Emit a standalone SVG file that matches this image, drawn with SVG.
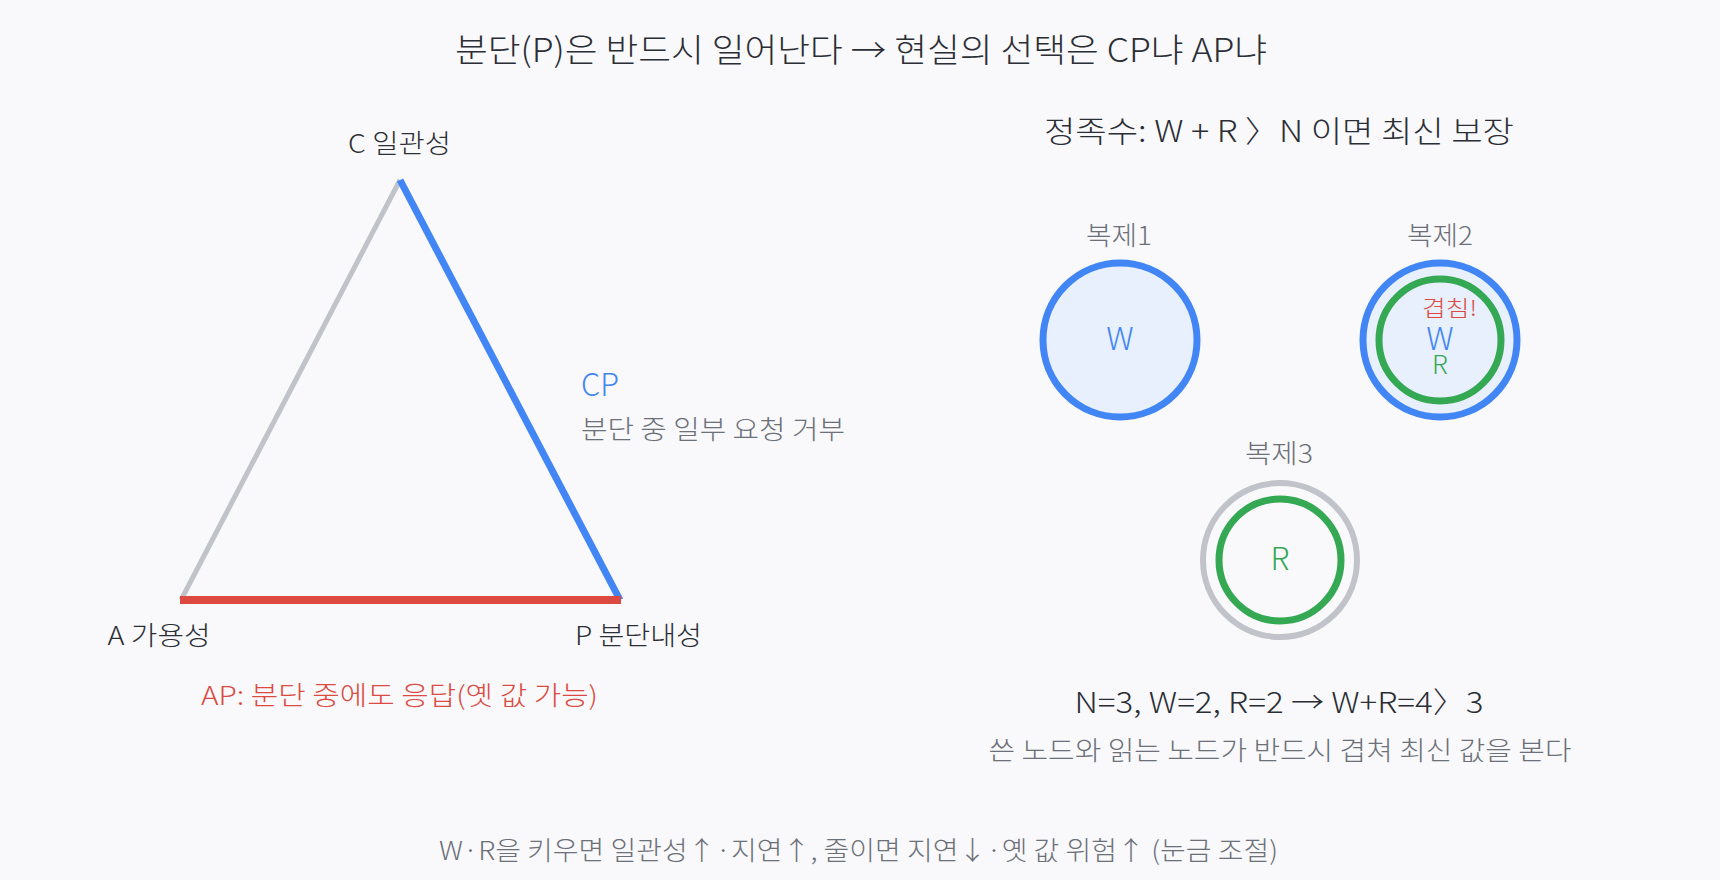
<svg xmlns="http://www.w3.org/2000/svg" width="1720" height="880" viewBox="0 0 1720 880">
<style>
text{font-family:"Noto Sans CJK KR","Noto Sans",sans-serif;font-weight:300}
.dk{fill:#2b2e35}
.gy{fill:#6c7079}
.bl{fill:#4285f4}
.rd{fill:#db4b42}
.gn{fill:#34a853}
.mid{text-anchor:middle}
</style>
<rect width="1720" height="880" fill="#f9f9fb"/>
<text class="dk mid" x="861" y="62" font-size="33" textLength="812" lengthAdjust="spacingAndGlyphs">분단(P)은 반드시 일어난다 → 현실의 선택은 CP냐 AP냐</text>
<g id="connectors" fill="none" stroke-linecap="butt">
<line x1="400" y1="180" x2="181" y2="600" stroke="#c0c3ca" stroke-width="5"/>
<line x1="400" y1="180" x2="620" y2="600" stroke="#4285f4" stroke-width="7"/>
<line x1="180" y1="600" x2="621" y2="600" stroke="#db4b42" stroke-width="8"/>
</g>
<g id="node-c"><text class="dk mid" x="399.5" y="153" font-size="26" textLength="103" lengthAdjust="spacingAndGlyphs">C 일관성</text></g>
<g id="node-a"><text class="dk mid" x="159" y="645" font-size="26" textLength="103" lengthAdjust="spacingAndGlyphs">A 가용성</text></g>
<g id="node-p"><text class="dk mid" x="638.5" y="645" font-size="26" textLength="127" lengthAdjust="spacingAndGlyphs">P 분단내성</text></g>
<g id="label-cp">
<text class="bl" x="581" y="396" font-size="32" textLength="38" lengthAdjust="spacingAndGlyphs">CP</text>
<text class="gy" x="581" y="439" font-size="26" textLength="264" lengthAdjust="spacingAndGlyphs">분단 중 일부 요청 거부</text>
</g>
<g id="label-ap"><text class="rd mid" x="399.5" y="705" font-size="26" textLength="397" lengthAdjust="spacingAndGlyphs">AP: 분단 중에도 응답(옛 값 가능)</text></g>
<text class="dk mid" x="1279" y="142" font-size="30" textLength="470" lengthAdjust="spacingAndGlyphs">정족수: W + R 〉N 이면 최신 보장</text>
<g id="replica1">
<text class="gy mid" x="1119" y="245" font-size="26" textLength="66" lengthAdjust="spacingAndGlyphs">복제1</text>
<circle cx="1120" cy="340" r="77" fill="#e8f0fe" stroke="#4285f4" stroke-width="7"/>
<text class="bl mid" x="1120" y="350" font-size="32">W</text>
</g>
<g id="replica2">
<text class="gy mid" x="1440" y="245" font-size="26" textLength="66" lengthAdjust="spacingAndGlyphs">복제2</text>
<circle cx="1440" cy="340" r="77" fill="#e8f0fe" stroke="#4285f4" stroke-width="7"/>
<circle cx="1440" cy="340" r="61" fill="none" stroke="#34a853" stroke-width="7"/>
<text class="rd mid" x="1449.5" y="316" font-size="22" textLength="55" lengthAdjust="spacingAndGlyphs">겹침!</text>
<text class="bl mid" x="1440" y="350" font-size="32">W</text>
<text class="gn mid" x="1440" y="374" font-size="26">R</text>
</g>
<g id="replica3">
<text class="gy mid" x="1279" y="463" font-size="26" textLength="68" lengthAdjust="spacingAndGlyphs">복제3</text>
<circle cx="1280" cy="560" r="77" fill="none" stroke="#c0c3ca" stroke-width="6"/>
<circle cx="1280" cy="560" r="61" fill="none" stroke="#34a853" stroke-width="7"/>
<text class="gn mid" x="1280" y="570" font-size="31">R</text>
</g>
<text class="dk mid" x="1279" y="713" font-size="29" textLength="409" lengthAdjust="spacingAndGlyphs">N=3, W=2, R=2 → W+R=4〉3</text>
<text class="gy mid" x="1280" y="760" font-size="26" textLength="583" lengthAdjust="spacingAndGlyphs">쓴 노드와 읽는 노드가 반드시 겹쳐 최신 값을 본다</text>
<text class="gy mid" x="858.5" y="860" font-size="26" textLength="839" lengthAdjust="spacingAndGlyphs">W·R을 키우면 일관성↑·지연↑, 줄이면 지연↓·옛 값 위험↑ (눈금 조절)</text>
</svg>
